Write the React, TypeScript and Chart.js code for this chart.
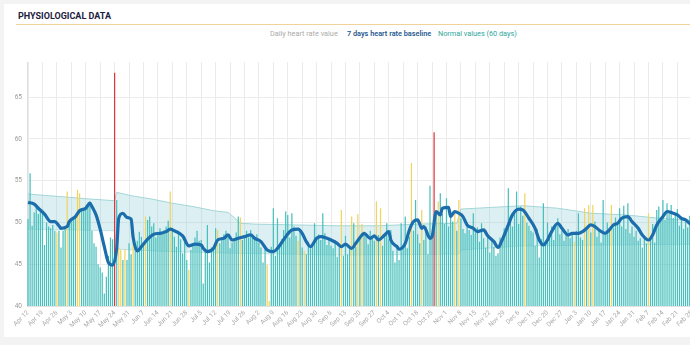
import React, { useEffect, useRef } from "react";
import { Chart, registerables } from "chart.js";

Chart.register(...registerables);

// ---------- data ----------
const tickLabels = [
  "Apr 12", "Apr 19", "Apr 26", "May 3", "May 10", "May 17", "May 24", "May 31",
  "Jun 7", "Jun 14", "Jun 21", "Jun 28", "Jul 5", "Jul 12", "Jul 19", "Jul 26",
  "Aug 2", "Aug 9", "Aug 16", "Aug 23", "Aug 30", "Sep 6", "Sep 13", "Sep 20",
  "Sep 27", "Oct 4", "Oct 11", "Oct 18", "Oct 25", "Nov 1", "Nov 8", "Nov 15",
  "Nov 22", "Nov 29", "Dec 6", "Dec 13", "Dec 20", "Dec 27", "Jan 3", "Jan 10",
  "Jan 17", "Jan 24", "Jan 31", "Feb 7", "Feb 14", "Feb 21", "Feb 28",
];

const yTickValues = [40, 45, 50, 55, 60, 65];

// daily heart rate value, one per day starting Apr 12
const dailyHeartRate = [
  50.4, 55.9, 49.6, 51.2, 51.8, 51.0, 51.5,
  51.0, 47.3, 50.0, 49.5, 49.3, 49.7, 49.0,
  48.8, 49.0, 47.0, 49.0, 49.3, 53.7, 50.0,
  50.2, 50.3, 50.9, 53.9, 53.5, 51.5, 51.5,
  52.0, 52.0, 52.5, 49.0, 47.5, 47.1, 45.0,
  44.6, 44.0, 41.5, 43.5, 46.0, 48.2, 48.0,
  67.9, 52.7, 47.0, 46.7, 45.5, 46.8, 45.5,
  47.5, 46.2, 47.6, 46.9, 47.8, 48.9, 48.3,
  47.5, 50.7, 50.3, 50.7, 49.5, 49.9, 48.2,
  48.7, 49.3, 48.9, 49.1, 49.5, 50.2, 53.7,
  49.0, 48.3, 47.1, 49.0, 48.0, 46.3, 48.3,
  45.5, 44.3, 46.7, 47.5, 48.2, 49.0, 47.8,
  47.9, 42.7, 46.5, 49.7, 45.2, 47.0, 46.8,
  49.3, 49.1, 47.5, 48.2, 48.6, 49.0, 48.4,
  46.9, 47.6, 48.0, 48.8, 50.7, 50.6, 47.9,
  48.3, 49.0, 48.2, 49.1, 48.4, 47.9, 48.6,
  47.6, 47.0, 45.2, 46.8, 44.9, 40.6, 47.1,
  51.7, 46.0, 50.5, 47.3, 48.0, 49.1, 51.3,
  50.9, 48.2, 51.1, 49.5, 48.4, 47.8, 48.9,
  47.0, 46.6, 46.2, 47.7, 46.9, 47.4, 49.9,
  48.0, 48.6, 47.9, 51.1, 48.7, 47.3, 48.1,
  47.2, 46.9, 47.8, 45.9, 47.0, 51.5, 46.0,
  48.4, 46.2, 46.8, 50.7, 49.9, 47.1, 51.0,
  48.2, 49.8, 48.9, 48.7, 47.4, 49.0, 48.1,
  47.8, 52.5, 48.5, 51.7, 47.2, 48.4, 49.9,
  48.0, 49.1, 46.6, 45.2, 47.3, 45.5, 49.9,
  47.1, 50.7, 46.9, 48.3, 57.1, 49.0, 52.7,
  48.6, 47.5, 51.5, 47.9, 49.5, 46.2, 54.4,
  48.7, 60.8, 50.9, 52.5, 53.5, 51.0, 49.8,
  52.9, 49.5, 51.4, 50.1, 51.4, 49.0, 52.7,
  50.5, 49.2, 48.7, 50.0, 49.1, 48.5, 51.1,
  48.8, 49.4, 47.7, 49.9, 48.1, 47.0, 48.6,
  46.4, 47.8, 47.1, 46.0, 46.3, 48.2, 47.5,
  49.3, 48.7, 54.1, 50.7, 49.5, 51.0, 53.7,
  49.8, 51.9, 50.8, 53.5, 50.0, 49.6, 49.0,
  48.8, 47.2, 49.2, 45.8, 48.0, 52.3, 47.6,
  50.0, 48.4, 49.5, 47.9, 49.7, 50.5, 48.6,
  49.0, 47.8, 48.9, 49.2, 48.1, 48.7, 47.7,
  49.0, 51.1, 48.2, 47.9, 51.7, 49.4, 52.1,
  48.8, 52.1, 50.1, 48.3, 49.1, 47.6, 52.7,
  48.5, 50.0, 48.9, 52.1, 49.3, 50.6, 49.8,
  51.7, 49.5, 52.0, 49.2, 52.3, 48.7, 49.5,
  48.3, 49.0, 47.8, 48.1, 47.0, 48.4, 47.5,
  51.1, 48.1, 49.8, 47.6, 51.5, 51.9, 50.6,
  52.7, 50.3, 52.3, 51.0, 52.1, 50.5, 50.9,
  51.6, 49.6, 50.7, 49.2, 50.1, 49.4, 50.8,
  48.9, 50.2, 49.7, 50.5,
];

// days (index from Apr 12) flagged in the daily series
const cautionDays = [14, 19, 24, 25, 44, 45, 47, 51, 57, 69, 78, 92, 103, 116, 117, 131, 134, 152, 157, 160, 162, 169, 171, 186, 191, 199, 207, 209, 241, 265, 270, 272, 274, 283, 301];
const alertDays = [42, 197];

// 7 days heart rate baseline
const baselineDays = [0, 3, 5, 8, 11, 13, 15, 16, 19, 20, 23, 25, 28, 30, 31, 33, 35, 37, 39, 41, 43, 44, 46, 48, 50, 51, 53, 55, 58, 61, 64, 67, 69, 71, 75, 78, 81, 84, 85, 87, 90, 92, 95, 97, 99, 102, 105, 108, 110, 113, 116, 119, 121, 125, 128, 131, 133, 135, 137, 140, 142, 145, 147, 150, 152, 154, 157, 159, 162, 163, 166, 168, 170, 173, 175, 176, 179, 180, 183, 185, 187, 189, 191, 192, 195, 196, 198, 200, 201, 204, 205, 207, 209, 211, 213, 216, 218, 221, 223, 226, 228, 230, 233, 235, 238, 240, 243, 246, 248, 250, 252, 254, 257, 259, 262, 264, 267, 269, 271, 273, 275, 277, 280, 282, 284, 286, 288, 291, 293, 296, 298, 301, 303, 305, 308, 310, 313, 315, 317, 319, 321, 324];
const baselineValues = [52.4, 52.2, 51.7, 51.0, 50.1, 50.1, 49.6, 49.3, 49.5, 50.1, 50.7, 51.4, 51.7, 52.3, 51.9, 50.9, 49.2, 47.1, 45.2, 44.9, 46.9, 50.5, 51.1, 50.6, 50.4, 48.2, 46.6, 47.1, 48.0, 48.6, 48.7, 48.9, 49.2, 49.0, 48.4, 47.2, 47.4, 47.3, 46.9, 46.5, 46.9, 47.9, 48.1, 48.5, 47.9, 48.1, 48.3, 48.5, 48.1, 47.7, 46.7, 46.5, 46.9, 48.3, 49.1, 49.2, 48.7, 47.7, 47.1, 48.1, 48.3, 48.1, 47.9, 47.5, 47.1, 47.4, 46.9, 47.5, 48.5, 48.7, 48.1, 48.4, 47.9, 48.5, 48.9, 47.9, 47.1, 46.8, 47.5, 49.1, 50.1, 50.3, 49.3, 49.5, 48.1, 48.3, 51.3, 50.9, 51.7, 51.8, 50.7, 51.3, 51.1, 50.7, 49.7, 49.3, 48.9, 49.1, 48.4, 47.7, 47.0, 47.9, 49.7, 50.9, 51.6, 51.5, 50.5, 49.3, 47.9, 47.3, 47.9, 48.9, 49.9, 49.3, 48.5, 48.7, 48.7, 48.9, 49.3, 49.7, 49.5, 49.1, 48.7, 49.1, 49.7, 49.9, 50.5, 50.7, 50.1, 49.3, 48.5, 47.9, 48.5, 49.7, 50.7, 51.3, 51.1, 50.9, 50.5, 50.3, 49.9, 49.6];

// Normal values (60 days): upper and lower limits
const normalUpperDays = [0, 10, 20, 30, 42, 43, 50, 60, 70, 80, 90, 97, 100, 103, 110, 130, 150, 170, 190, 208, 210, 225, 240, 257, 273, 290, 306, 325];
const normalUpperValues = [53.4, 53.2, 53.0, 52.8, 52.6, 53.6, 53.2, 52.8, 52.3, 51.9, 51.4, 51.2, 50.6, 49.9, 49.8, 49.7, 49.6, 49.6, 49.8, 49.9, 51.6, 51.8, 52.0, 51.7, 51.1, 50.9, 50.5, 50.2];
const normalLowerDays = [0, 42, 43, 70, 103, 150, 209, 210, 240, 280, 325];
const normalLowerValues = [49.2, 49.0, 46.8, 46.5, 46.3, 46.1, 46.2, 46.7, 47.2, 47.3, 47.4];

// ---------- component ----------
const FONT = "Roboto, 'Noto Sans', Arial, sans-serif";

export default function App() {
  const canvasRef = useRef<HTMLCanvasElement | null>(null);

  useEffect(() => {
    const canvas = canvasRef.current;
    if (!canvas) return;
    Chart.defaults.font.family = FONT;

    const barColors = dailyHeartRate.map((_, i) =>
      alertDays.includes(i) ? "#e2343c" : cautionDays.includes(i) ? "#f1d45e" : "#47bfbc"
    );
    const xTickValues = tickLabels.map((_, i) => i * 7);

    const chart = new Chart(canvas, {
      type: "bar",
      data: {
        datasets: [
          {
            type: "line",
            label: "7 days heart rate baseline",
            data: baselineDays.map((d, i) => ({ x: d, y: baselineValues[i] })),
            borderColor: "#1c6dac",
            borderWidth: 3.2,
            pointRadius: 0,
            cubicInterpolationMode: "monotone",
            fill: false,
            order: 0,
          } as any,
          {
            type: "bar",
            label: "Daily heart rate value",
            data: dailyHeartRate.map((v, i) => ({ x: i, y: v })),
            backgroundColor: barColors,
            barPercentage: 0.7,
            categoryPercentage: 0.85,
            order: 2,
          } as any,
          {
            type: "line",
            label: "Normal values (60 days)",
            data: normalUpperDays.map((d, i) => ({ x: d, y: normalUpperValues[i] })),
            borderColor: "#a3d6d8",
            borderWidth: 1,
            pointRadius: 0,
            tension: 0,
            fill: "+1",
            backgroundColor: "rgba(150, 208, 220, 0.33)",
            order: 5,
          } as any,
          {
            type: "line",
            label: "Normal low",
            data: normalLowerDays.map((d, i) => ({ x: d, y: normalLowerValues[i] })),
            borderColor: "rgba(163, 214, 216, 0.6)",
            borderWidth: 1,
            pointRadius: 0,
            tension: 0,
            fill: false,
            order: 5,
          } as any,
        ],
      },
      options: {
        animation: false,
        responsive: false,
        layout: { padding: { top: 22, left: 0, right: 0, bottom: 0 } },
        plugins: {
          legend: { display: false },
          tooltip: { enabled: false },
        },
        scales: {
          x: {
            type: "linear",
            min: -0.5,
            max: 325.5,
            offset: false,
            afterBuildTicks: (s: any) => {
              s.ticks = xTickValues.map((v) => ({ value: v }));
            },
            afterFit: (s: any) => {
              s.height = 30;
              s.paddingLeft = 0;
              s.paddingRight = 0;
            },
            grid: { color: "#ebebeb", drawTicks: false, offset: false },
            border: { color: "#e2e2e2" },
            ticks: {
              autoSkip: false,
              minRotation: 45,
              maxRotation: 45,
              padding: 3,
              color: "#aaaaaa",
              font: { size: 6.5 },
              callback: (v: any) => tickLabels[Math.round(Number(v) / 7)] ?? "",
            },
          },
          y: {
            min: 40,
            max: 69.2,
            afterBuildTicks: (s: any) => {
              s.ticks = yTickValues.map((v) => ({ value: v }));
            },
            afterFit: (s: any) => {
              s.width = 23;
              s.paddingTop = 0;
              s.paddingBottom = 0;
            },
            grid: { color: "#ebebeb", drawTicks: false },
            border: { color: "#dedede" },
            ticks: { padding: 5, color: "#9a9a9a", font: { size: 6.5 } },
          },
        },
      } as any,
    });
    return () => chart.destroy();
  }, []);

  const legendBase: React.CSSProperties = {
    position: "absolute",
    top: 30,
    fontSize: 7.3,
    lineHeight: "8px",
    fontFamily: FONT,
    whiteSpace: "nowrap",
  };

  return (
    <div
      style={{
        position: "fixed",
        left: 0,
        top: 0,
        width: 690,
        height: 345,
        overflow: "hidden",
        background: "#f3f3f3",
      }}
    >
      <div
        style={{
          position: "absolute",
          left: 4,
          top: 4,
          width: 760,
          height: 333,
          background: "#ffffff",
        }}
      />
      <div
        style={{
          position: "absolute",
          left: 18,
          top: 12,
          fontFamily: FONT,
          fontWeight: 700,
          fontSize: 9,
          lineHeight: "9px",
          color: "#1b2140",
          whiteSpace: "nowrap",
        }}
      >
        PHYSIOLOGICAL DATA
      </div>
      <div
        style={{
          position: "absolute",
          left: 16,
          top: 24,
          width: 760,
          height: 1,
          background: "#efd39a",
        }}
      />
      <div style={{ ...legendBase, left: 270, color: "#ababab" }}>Daily heart rate value</div>
      <div style={{ ...legendBase, left: 347, color: "#1f5a8e", fontWeight: 600 }}>
        7 days heart rate baseline
      </div>
      <div style={{ ...legendBase, left: 438, color: "#30a59c" }}>Normal values (60 days)</div>
      <canvas
        ref={canvasRef}
        width={695}
        height={296}
        style={{ position: "absolute", left: 4, top: 40, width: 695, height: 296 }}
      />
    </div>
  );
}
